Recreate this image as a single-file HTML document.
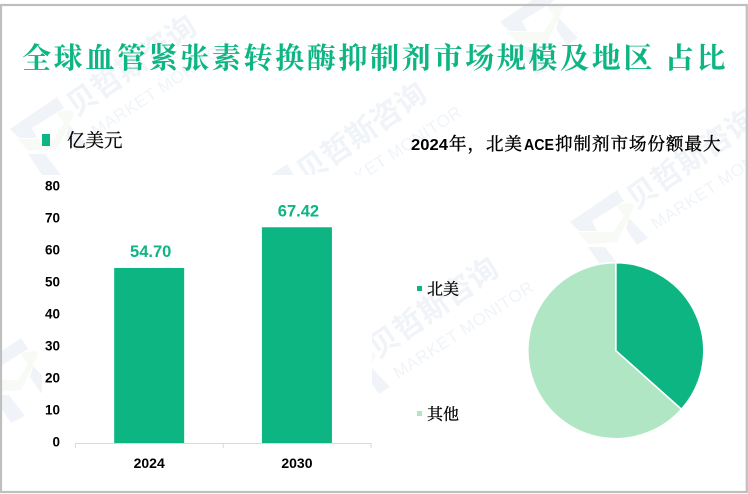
<!DOCTYPE html>
<html lang="zh">
<head>
<meta charset="utf-8">
<title>全球血管紧张素转换酶抑制剂市场规模及地区占比</title>
<style>
html,body{margin:0;padding:0;background:#fff;overflow:hidden;}
#stage{position:relative;width:748px;height:494px;overflow:hidden;background:#fff;}
svg{display:block;position:absolute;left:0;top:0;}
text{font-family:"Liberation Sans","Noto Sans CJK SC",sans-serif;}
text.serif{font-family:"Noto Serif CJK SC","Liberation Serif",serif;}
</style>
</head>
<body>
<div id="stage">
<svg id="chart" width="748" height="494" viewBox="0 0 748 494" xmlns="http://www.w3.org/2000/svg">
  <defs>
    <g id="wm-logo">
      <polygon points="0,32 47,0 54,11 22,31 27,41 9,41" fill="#f0f4f8"/>
      <polygon points="8,42 44,42 54,26 46,15 62,13 64,17 47,52 18,54" fill="#f7faf5"/>
      <polygon points="59,28 78,48 67,55 56,39" fill="#f0f4f8"/>
      <polygon points="18,57 35,57 51,78 37,85" fill="#f0f4f8"/>
    </g>
    <g id="wm-text">
      <text transform="translate(66,20) rotate(-35)" font-size="30" font-weight="700" fill="#f0f4f9">贝哲斯咨询</text>
      <text transform="translate(86,40) rotate(-33)" font-size="17" fill="#f0f4f9" letter-spacing="0.6">MARKET MONITOR</text>
    </g>
  </defs>

  <g id="watermarks">
    <g transform="translate(10,97)"><use href="#wm-logo"/><use href="#wm-text"/></g>
    <g transform="translate(570,190)"><use href="#wm-logo"/><use href="#wm-text"/></g>
    <g transform="translate(500,-10)"><use href="#wm-logo"/></g>
    <g transform="translate(-26,338)"><use href="#wm-logo"/></g>
    <g transform="translate(312,339)"><use href="#wm-logo"/><use href="#wm-text"/></g>
    <g transform="translate(240,164)"><use href="#wm-logo"/><use href="#wm-text"/></g>
  </g>

  <rect x="42" y="175" width="330" height="302" fill="#fff"/>

  <rect x="1" y="5" width="745.8" height="487" fill="none" stroke="#bfbfbf" stroke-width="2.2"/>

  <text class="serif" x="22" y="68" font-size="29" font-weight="700" letter-spacing="2.65" fill="#0db582">全球血管紧张素转换酶抑制剂市场规模及地区 占比</text>

  <rect x="42" y="134" width="8" height="12" fill="#0db582"/>
  <text class="serif" x="67" y="147" font-size="18.5" fill="#000" stroke="#000" stroke-width="0.25">亿美元</text>

  <g>
    <text x="411" y="150" font-size="16" font-weight="700" fill="#000" textLength="37" lengthAdjust="spacingAndGlyphs">2024</text>
    <text class="serif" x="449" y="150" font-size="17.5" letter-spacing="1" fill="#000" stroke="#000" stroke-width="0.4">年，北美</text>
    <text x="524" y="150" font-size="16" font-weight="700" fill="#000" textLength="30" lengthAdjust="spacingAndGlyphs">ACE</text>
    <text class="serif" x="555" y="150" font-size="17.5" letter-spacing="1" fill="#000" stroke="#000" stroke-width="0.4">抑制剂市场份额最大</text>
  </g>

  <g id="bar-axis"></g>
  <g id="bars"></g>
  <g id="pie"></g>
  <g id="pie-legend"></g>
</svg>
</div>
<script>
var barCategories = ['2024', '2030'];
var barValues = [54.70, 67.42];
var axisTicks = [0, 10, 20, 30, 40, 50, 60, 70, 80];
var pieLabels = ['北美', '其他'];
var pieValues = [36.6, 63.4];

var NS = 'http://www.w3.org/2000/svg';
var GREEN = '#0db582';
var LIGHT = '#b0e6c3';
var plot = { left: 75.5, right: 371, bottom: 443, top: 187, max: 80 };

function yScale(v) {
  return plot.bottom - (v / plot.max) * (plot.bottom - plot.top);
}
function bandWidth() {
  return (plot.right - plot.left) / barCategories.length;
}
function xCenter(i) {
  return plot.left + bandWidth() * (i + 0.5);
}
function make(tag, attrs, parent, txt) {
  var el = document.createElementNS(NS, tag);
  for (var k in attrs) el.setAttribute(k, attrs[k]);
  if (txt !== undefined) el.textContent = txt;
  parent.appendChild(el);
  return el;
}

var axisG = document.getElementById('bar-axis');
var barsG = document.getElementById('bars');

axisTicks.forEach(function (t) {
  var el = make('text', { x: 60, y: yScale(t) + 3.5, 'text-anchor': 'end', 'font-size': 13.5, 'font-weight': 700, fill: '#000' }, axisG, String(t));
  
  
});

var axisLine = make('line', { x1: plot.left, x2: plot.right, y1: plot.bottom + 0.5, y2: plot.bottom + 0.5, stroke: '#d9d9d9', 'stroke-width': 1 }, axisG);



for (var b = 0; b <= barCategories.length; b++) {
  var tx = plot.left + bandWidth() * b;
  var tick = make('line', { x1: tx, x2: tx, y1: plot.bottom, y2: plot.bottom + 5, stroke: '#d9d9d9', 'stroke-width': 1 }, axisG);
  
  
}

barCategories.forEach(function (c, i) {
  var w = 70;
  var cx = xCenter(i) - 0.2;
  var top = yScale(barValues[i]);
  var bar = make('rect', { x: cx - w / 2, y: top, width: w, height: plot.bottom - top, fill: GREEN }, barsG);
  
  

  var val = make('text', { x: cx + 1.5, y: top - 11, 'text-anchor': 'middle', 'font-size': 16.5, 'font-weight': 700, fill: GREEN }, barsG, barValues[i].toFixed(2));
  
  

  var lab = make('text', { x: cx, y: 468, 'text-anchor': 'middle', 'font-size': 14, 'font-weight': 700, fill: '#000' }, axisG, c);
  
  
});

var pieG = document.getElementById('pie');
var pieCx = 615.8, pieCy = 350.7, pieR = 88;
var pieColors = [GREEN, LIGHT];
var pieTotal = pieValues.reduce(function (a, b) { return a + b; }, 0);
var angle = 0;
pieValues.forEach(function (v, i) {
  var a0 = angle;
  var a1 = angle + (v / pieTotal) * Math.PI * 2;
  angle = a1;
  var x0 = pieCx + pieR * Math.sin(a0), y0 = pieCy - pieR * Math.cos(a0);
  var x1 = pieCx + pieR * Math.sin(a1), y1 = pieCy - pieR * Math.cos(a1);
  var large = (a1 - a0) > Math.PI ? 1 : 0;
  var d = 'M' + pieCx + ' ' + pieCy + 'L' + x0 + ' ' + y0 + 'A' + pieR + ' ' + pieR + ' 0 ' + large + ' 1 ' + x1 + ' ' + y1 + 'Z';
  var s = make('path', { d: d, fill: pieColors[i], stroke: '#fff', 'stroke-width': 1.6, 'stroke-linejoin': 'round' }, pieG);
  
  
});

var legG = document.getElementById('pie-legend');
pieLabels.forEach(function (l, i) {
  var y = 288 + i * 125;
  var sw = make('rect', { x: 417, y: y - 2, width: 5, height: 5, fill: pieColors[i] }, legG);
  
  
  var tx = make('text', { 'class': 'serif', x: 427, y: y + 6.5, 'font-size': 16, fill: '#000', stroke: '#000', 'stroke-width': 0.3 }, legG, l);
  
  
});
</script>
</body>
</html>
